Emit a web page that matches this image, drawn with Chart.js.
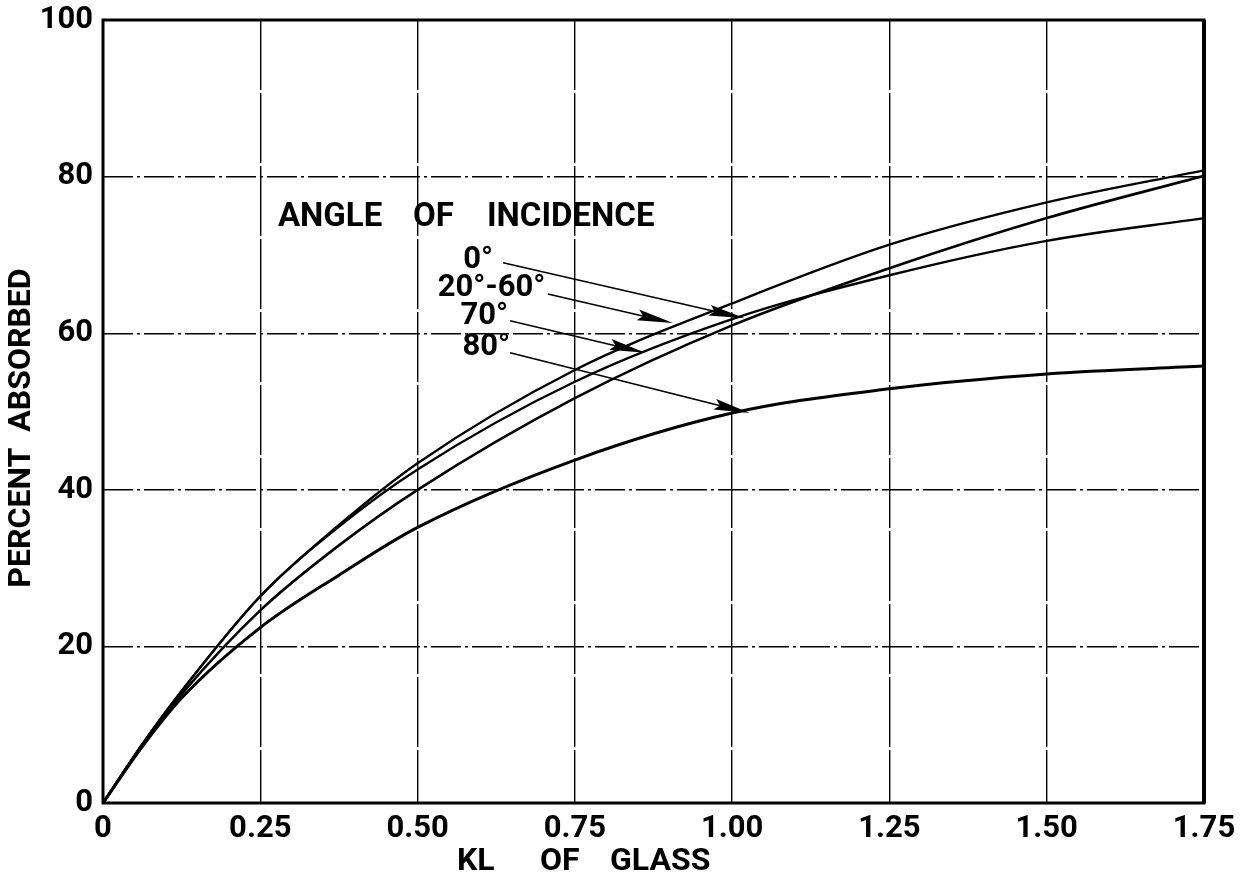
<!DOCTYPE html>
<html>
<head>
<meta charset="utf-8">
<script src="https://cdn.jsdelivr.net/npm/chart.js@4.4.1/dist/chart.umd.min.js"></script>
<style>
  html, body { margin: 0; background: #fff; }
  #wrap { width: 1251px; height: 877px; }
</style>
</head>
<body>
<div id="wrap"><canvas id="absorption"></canvas></div>
<script>
// KL of glass (x) and percent absorbed for each angle of incidence
var kl = [0, 0.0625, 0.125, 0.25, 0.375, 0.5, 0.75, 1.0, 1.25, 1.5, 1.75];
var absorbed0 = [0, 7.4, 13.9, 24.6, 32.9, 40.0, 51.7, 61.0, 68.3, 74.7, 80.1];
var absorbed20to60 = [0, 7.5, 14.3, 26.4, 35.5, 43.4, 55.3, 63.8, 71.3, 76.7, 80.8];
var absorbed70 = [0, 7.5, 14.3, 26.4, 35.3, 42.6, 53.8, 61.8, 67.4, 71.8, 74.7];
var absorbed80 = [0, 7.2, 13.4, 22.4, 29.1, 35.2, 43.8, 49.8, 52.9, 54.8, 55.8];

var xTickLabels = ['0', '0.25', '0.50', '0.75', '1.00', '1.25', '1.50', '1.75'];
var yTickLabels = ['0', '20', '40', '60', '80', '100'];

// callout labels: text, label anchor (right end) and arrow from/to, in data units
var calloutText = ['0°', '20°-60°', '70°', '80°'];
var calloutLabelAt = [[0.620, 69.3], [0.703, 65.8], [0.644, 62.2], [0.647, 58.2]];
var arrowFrom = [[0.636, 69.0], [0.707, 65.0], [0.647, 61.6], [0.647, 57.5]];
var arrowTo = [[1.020, 61.9], [0.906, 61.3], [0.862, 57.5], [1.028, 49.8]];
var legendWords = ['ANGLE', 'OF', 'INCIDENCE'];
var legendTitleAt = [0.278, 74.8];

var FONT = 'Roboto, "Liberation Sans", sans-serif';

function toPoints(values) {
  return kl.map(function (k, i) { return { x: k, y: values[i] }; });
}

function curve(label, values, width) {
  return {
    label: label,
    data: toPoints(values),
    borderColor: '#000',
    borderWidth: width,
    pointRadius: 0,
    fill: false,
    cubicInterpolationMode: 'monotone'
  };
}

var drafting = {
  id: 'drafting',
  afterDatasetsDraw: function (chart) {
    var ctx = chart.ctx;
    var a = chart.chartArea;
    var x = chart.scales.x;
    var y = chart.scales.y;
    ctx.save();

    // heavy frame
    ctx.strokeStyle = '#000';
    ctx.lineWidth = 3;
    ctx.strokeRect(a.left, a.top, a.right - a.left, a.bottom - a.top);
    ctx.lineWidth = 4;
    ctx.beginPath();
    ctx.moveTo(a.right, a.top);
    ctx.lineTo(a.right, a.bottom);
    ctx.stroke();

    // arrows
    for (var i = 0; i < arrowFrom.length; i++) {
      var x0 = x.getPixelForValue(arrowFrom[i][0]);
      var y0 = y.getPixelForValue(arrowFrom[i][1]);
      var x1 = x.getPixelForValue(arrowTo[i][0]);
      var y1 = y.getPixelForValue(arrowTo[i][1]);
      var len = Math.hypot(x1 - x0, y1 - y0);
      var ux = (x1 - x0) / len, uy = (y1 - y0) / len;
      ctx.lineWidth = 1.6;
      ctx.beginPath();
      ctx.moveTo(x0, y0);
      ctx.lineTo(x1 - ux * 20, y1 - uy * 20);
      ctx.stroke();
      var L = 36, w = 5.5;
      ctx.beginPath();
      ctx.moveTo(x1, y1);
      ctx.lineTo(x1 - ux * L - uy * w, y1 - uy * L + ux * w);
      ctx.lineTo(x1 - ux * L * 0.85, y1 - uy * L * 0.85);
      ctx.lineTo(x1 - ux * L + uy * w, y1 - uy * L - ux * w);
      ctx.closePath();
      ctx.fillStyle = '#000';
      ctx.fill();
    }

    // legend texts
    ctx.fillStyle = '#000';
    ctx.textBaseline = 'middle';
    ctx.font = '700 33px ' + FONT;
    ctx.textAlign = 'left';
    var lx = x.getPixelForValue(legendTitleAt[0]);
    var ly = y.getPixelForValue(legendTitleAt[1]);
    var wordOffsets = [0, 135, 209];
    legendWords.forEach(function (w, k) { ctx.fillText(w, lx + wordOffsets[k], ly); });

    ctx.font = '700 31px ' + FONT;
    ctx.textAlign = 'right';
    for (var j = 0; j < calloutText.length; j++) {
      ctx.fillText(calloutText[j], x.getPixelForValue(calloutLabelAt[j][0]), y.getPixelForValue(calloutLabelAt[j][1]));
    }

    // axis titles
    ctx.font = '700 32px ' + FONT;
    ctx.textAlign = 'left';
    ctx.fillText('KL', 457, 862);
    ctx.fillText('OF', 540, 862);
    ctx.fillText('GLASS', 610, 862);

    ctx.translate(22, 428);
    ctx.rotate(-Math.PI / 2);
    ctx.textAlign = 'center';
    ctx.fillText('PERCENT  ABSORBED', 0, 0);
    ctx.restore();
  }
};

var chart = new Chart(document.getElementById('absorption'), {
  type: 'line',
  plugins: [drafting],
  data: {
    datasets: [
      curve('0°', absorbed0, 2.6),
      curve('20°-60°', absorbed20to60, 2.4),
      curve('70°', absorbed70, 2.4),
      curve('80°', absorbed80, 3)
    ]
  },
  options: {
    responsive: true,
    maintainAspectRatio: false,
    animation: false,
    devicePixelRatio: 1,
    layout: {
      padding: { top: 20, right: 47, left: 0, bottom: 0 }
    },
    plugins: {
      legend: { display: false },
      tooltip: { enabled: false }
    },
    scales: {
      x: {
        type: 'linear',
        min: 0,
        max: 1.75,
        afterFit: function (s) {
          s.height = 74;
          s.paddingLeft = 0;
          s.paddingRight = 0;
        },
        border: { display: false, dash: [70, 3] },
        grid: { color: '#000', lineWidth: 1.4, drawTicks: false },
        ticks: {
          stepSize: 0.25,
          autoSkip: false,
          maxRotation: 0,
          padding: 8,
          color: '#000',
          font: { family: FONT, size: 31, weight: '700' },
          callback: function (v, i) { return xTickLabels[i]; }
        }
      },
      y: {
        min: 0,
        max: 100,
        afterFit: function (s) {
          s.width = 103;
          s.paddingTop = 0;
          s.paddingBottom = 0;
        },
        border: { display: false, dash: [30, 4, 3, 4] },
        grid: { color: '#000', lineWidth: 1.4, drawTicks: false },
        ticks: {
          stepSize: 20,
          padding: 10,
          color: '#000',
          font: { family: FONT, size: 31, weight: '700' },
          callback: function (v, i) { return yTickLabels[i]; }
        }
      }
    }
  }
});
</script>
</body>
</html>
